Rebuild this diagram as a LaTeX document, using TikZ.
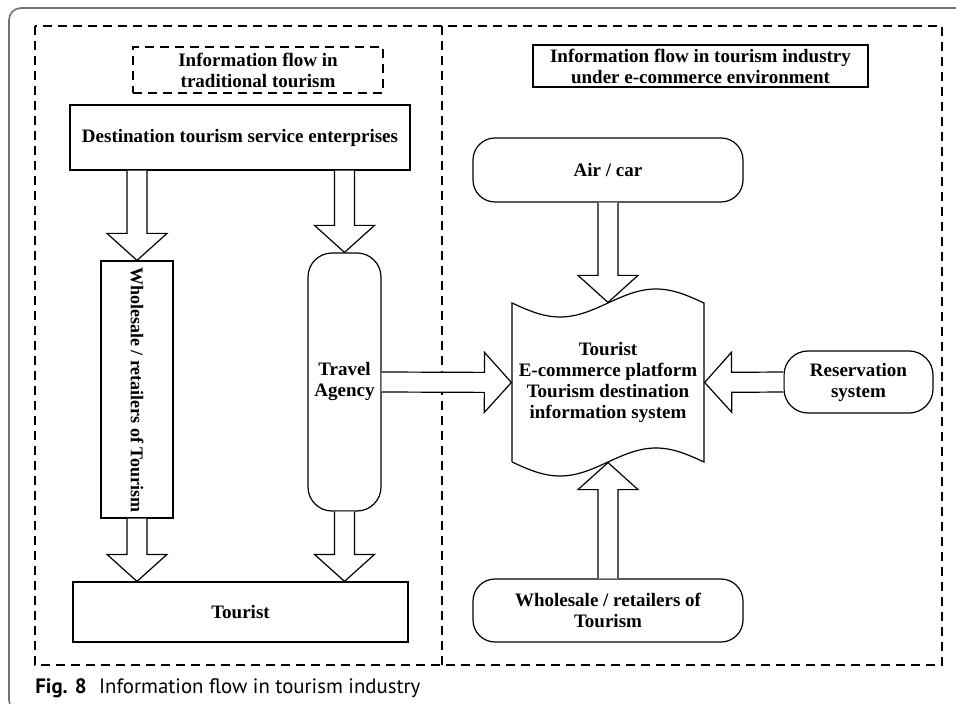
\documentclass[tikz,border=0pt]{standalone}
\usepackage{fontspec}
\setmainfont{Liberation Serif}
\newfontfamily\capfont{PT Sans}
\usetikzlibrary{calc}

\tikzset{
  box/.style={draw,line width=0.6pt,align=center,inner sep=1pt,
    font=\fontsize{9.5}{10.5}\selectfont\bfseries},
  roundbox/.style={box,rounded corners=11pt},
  dashbox/.style={box,dash pattern=on 4.5pt off 3pt},
  blockline/.style={draw,fill=white,line width=0.6pt,line join=miter},
  zone/.style={line width=0.7pt,dash pattern=on 4.5pt off 3pt}
}

% hollow block arrow from #1 to #2
\newcommand\blockarrow[2]{%
  \path ($(#2)!13.5pt!(#1)$) coordinate (ba-h);
  \draw[blockline] ($(#1)!5pt!90:(#2)$) -- ($(ba-h)!5pt!-90:(#1)$)
    -- ($(ba-h)!15pt!-90:(#1)$) -- (#2) -- ($(ba-h)!15pt!90:(#1)$)
    -- ($(ba-h)!5pt!90:(#1)$) -- ($(#1)!5pt!-90:(#2)$);}

\begin{document}
\begin{tikzpicture}[x=0.5pt,y=-0.5pt]
  \useasboundingbox (0,0) rectangle (956,704);
  \clip (0,0) rectangle (956,704);

  % page frame and the two zones
  \draw[black!55,line width=0.8pt,rounded corners=6pt] (970,8) -- (9,8) -- (9,712) -- (40,712);
  \draw[zone] (35,26) rectangle (942,665);
  \draw[zone] (442,26) -- (442,665);

  % traditional tourism
  \node[dashbox,minimum width=125pt,minimum height=23pt] (tradtitle) at (258,70) {Information flow in\\traditional tourism};
  \node[box,minimum width=170pt,minimum height=32.5pt] (dest) at (240,137.5) {Destination tourism service enterprises};
  \node[box,rotate=-90,minimum width=128.5pt,minimum height=36pt,font=\fontsize{9}{10}\selectfont\bfseries] (whole) at (137,389.5) {Wholesale / retailers of Tourism};
  \node[box,rounded corners=12pt,minimum width=36.5pt,minimum height=129pt] (agency) at (344.5,382) {Travel\\Agency};
  \node[box,minimum width=167.5pt,minimum height=30pt] (tourist) at (240.5,612) {Tourist};

  % e-commerce environment
  \node[box,minimum width=167.5pt,minimum height=21pt] (ectitle) at (700.5,66) {Information flow in tourism industry\\under e-commerce environment};
  \node[roundbox,minimum width=135pt,minimum height=32pt] (aircar) at (608,170) {Air / car};
  \node[box,draw=none,minimum width=96pt,minimum height=79.5pt] (platform) at (608,382.5) {Tourist\\E-commerce platform\\Tourism destination\\information system};
  % wavy outline of the platform
  \draw[line width=0.6pt] (512,462) -- (512,303) sin (560,317) cos (608,303) sin (656,289) cos (704,303)
    -- (704,462) sin (656,448) cos (608,462) sin (560,476) cos (512,462);
  \node[roundbox,rounded corners=12pt,minimum width=74.5pt,minimum height=31pt] (reserv) at (858.5,382) {Reservation\\system};
  \node[roundbox,minimum width=135pt,minimum height=31.5pt] (wholer) at (608,610.5) {Wholesale / retailers of\\Tourism};

  \node[anchor=base west,inner sep=0pt,font=\capfont\fontsize{10.4}{12}\selectfont] (caption) at (35,693) {\textbf{Fig. 8}\hspace{0.6em}Information flow in tourism industry};

  % block arrows
  \coordinate (d-wh) at (dest.south -| whole.center);
  \coordinate (d-ag) at (dest.south -| agency.center);
  \coordinate (t-wh) at (tourist.north -| whole.center);
  \coordinate (t-ag) at (tourist.north -| agency.center);
  \blockarrow{d-wh}{whole.west}
  \blockarrow{d-ag}{agency.north}
  \blockarrow{whole.east}{t-wh}
  \blockarrow{agency.south}{t-ag}
  \blockarrow{agency.east}{platform.west}
  \blockarrow{aircar.south}{platform.north}
  \blockarrow{reserv.west}{platform.east}
  \blockarrow{wholer.north}{platform.south}
\end{tikzpicture}
\end{document}
